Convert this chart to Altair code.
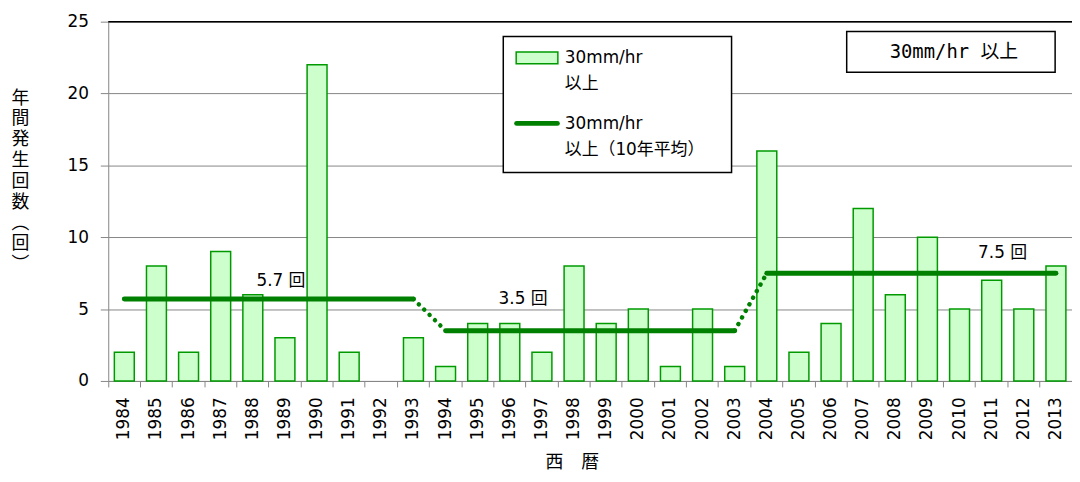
import altair as alt
import pandas as pd

years = ["1984", "1985", "1986", "1987", "1988", "1989", "1990", "1991", "1992", "1993",
         "1994", "1995", "1996", "1997", "1998", "1999", "2000", "2001", "2002", "2003",
         "2004", "2005", "2006", "2007", "2008", "2009", "2010", "2011", "2012", "2013"]
counts = [2, 8, 2, 9, 6, 3, 22, 2, 0, 3,
          1, 4, 4, 2, 8, 4, 5, 1, 5, 1,
          16, 2, 4, 12, 6, 10, 5, 7, 5, 8]

period_start = ["1984", "1994", "2004"]
period_end = ["1993", "2003", "2013"]
period_avg = [5.7, 3.5, 7.5]
avg_labels = ["5.7 回", "3.5 回", "7.5 回"]
label_years = ["1989", "1997", "2011"]

series_names = ["30mm/hr\n以上", "30mm/hr\n以上（10年平均）"]
box_title = ["30mm/hr 以上"]
y_title = ["年", "間", "発", "生", "回", "数", "︵", "回", "︶"]
x_title = "西　暦"
y_ticks = [0, 5, 10, 15, 20, 25]

FONT = "DejaVu Sans, 'Noto Sans CJK JP', sans-serif"
GRAY = "#868686"
GREEN = "#008000"
BAR_FILL = "#ccffcc"
BAR_STROKE = "#009a00"

# tables
bar_df = pd.DataFrame({"year": years, "count": counts})

line_rows = []
for p, (a, b, v) in enumerate(zip(period_start, period_end, period_avg)):
    for y in years[years.index(a): years.index(b) + 1]:
        line_rows.append({"year": y, "avg": v, "period": p})
line_df = pd.DataFrame(line_rows)

trans_rows = []
for p in range(len(period_avg) - 1):
    trans_rows.append({"year": period_end[p], "avg": period_avg[p], "seg": p})
    trans_rows.append({"year": period_start[p + 1], "avg": period_avg[p + 1], "seg": p})
trans_df = pd.DataFrame(trans_rows)

lab_df = pd.DataFrame({"year": label_years, "avg": period_avg, "label": avg_labels})
box_df = pd.DataFrame({"t": box_title})
top_df = pd.DataFrame({"v": [y_ticks[-1]]})
leg_df = pd.DataFrame({"a": [series_names[0]], "b": [series_names[1]]})

xscale = alt.Scale(domain=years, paddingInner=0, paddingOuter=0)
yscale = alt.Scale(domain=[0, 25], nice=False)

xaxis = alt.Axis(
    title=x_title, labelAngle=-90, labelFont=FONT, labelFontSize=17, labelColor="black",
    labelPadding=10, tickSize=6, tickColor=GRAY, domainColor=GRAY, bandPosition=0,
    grid=False, titleFont=FONT, titleFontSize=18, titleFontWeight="normal",
    titleColor="black", titleX=467, titleY=82, titleBaseline="middle", titleAlign="center",
)
yaxis = alt.Axis(
    title=y_title, values=y_ticks, labelFont=FONT, labelFontSize=17, labelColor="black",
    labelPadding=12, tickSize=8, tickColor=GRAY, domainColor=GRAY, grid=True,
    gridColor=GRAY, gridWidth=1, titleAngle=0, titleFont=FONT, titleFontSize=18,
    titleFontWeight="normal", titleColor="black", titleX=-89, titleY=68,
    titleBaseline="top", titleAlign="center", titleLineHeight=21,
)

bars = alt.Chart(bar_df).transform_filter("datum.count > 0").mark_bar(
    width=alt.RelativeBandSize(0.62), fill=BAR_FILL, stroke=BAR_STROKE, strokeWidth=1.5
).encode(
    x=alt.X("year:O", scale=xscale, axis=xaxis, sort=years),
    y=alt.Y("count:Q", scale=yscale, axis=yaxis),
)

top_rule = alt.Chart(top_df).mark_rule(color="black", strokeWidth=1.5).encode(
    y=alt.Y("v:Q", scale=yscale)
)

avg_line = alt.Chart(line_df).mark_line(strokeWidth=5, strokeCap="round", color=GREEN).encode(
    x=alt.X("year:O", scale=xscale, sort=years),
    y=alt.Y("avg:Q", scale=yscale),
    detail="period:N",
)

trans_line = alt.Chart(trans_df).mark_line(
    strokeWidth=4.5, strokeDash=[0.1, 7.5], strokeCap="round", color=GREEN
).encode(
    x=alt.X("year:O", scale=xscale, sort=years),
    y=alt.Y("avg:Q", scale=yscale),
    detail="seg:N",
)

offsets = [(-4, -18), (-19, -32), (11, -20)]
texts = []
for i, (dx, dy) in enumerate(offsets):
    texts.append(
        alt.Chart(lab_df.iloc[[i]]).mark_text(
            font=FONT, fontSize=17, color="black", dx=dx, dy=dy, baseline="middle"
        ).encode(
            x=alt.X("year:O", scale=xscale, sort=years),
            y=alt.Y("avg:Q", scale=yscale),
            text="label:N",
        )
    )

# title box (top right)
box = alt.Chart(box_df).mark_rect(fill="white", stroke="black", strokeWidth=1.5).encode(
    x=alt.value(744), x2=alt.value(954), y=alt.value(10), y2=alt.value(51)
)
box_text = alt.Chart(box_df).mark_text(
    font="'DejaVu Sans Mono', 'Noto Sans CJK JP', monospace", fontSize=19,
    color="black", baseline="middle", align="center"
).encode(x=alt.value(852), y=alt.value(31), text="t:N")

# legend (drawn box)
leg_box = alt.Chart(leg_df).mark_rect(fill="white", stroke="black", strokeWidth=1.5).encode(
    x=alt.value(398), x2=alt.value(628), y=alt.value(15), y2=alt.value(152)
)
leg_sw1 = alt.Chart(leg_df).mark_rect(fill=BAR_FILL, stroke=BAR_STROKE, strokeWidth=1.5).encode(
    x=alt.value(411), x2=alt.value(453), y=alt.value(30.5), y2=alt.value(42.5)
)
leg_sw2 = alt.Chart(leg_df).mark_rule(color=GREEN, strokeWidth=5, strokeCap="round").encode(
    x=alt.value(411.5), x2=alt.value(452.5), y=alt.value(102.5)
)
leg_t1 = alt.Chart(leg_df).mark_text(
    font=FONT, fontSize=17, color="black", align="left", baseline="middle",
    lineBreak="\n", lineHeight=26.5
).encode(x=alt.value(460), y=alt.value(36.5), text="a:N")
leg_t2 = alt.Chart(leg_df).mark_text(
    font=FONT, fontSize=17, color="black", align="left", baseline="middle",
    lineBreak="\n", lineHeight=26.5
).encode(x=alt.value(460), y=alt.value(103), text="b:N")

chart = alt.layer(
    bars, top_rule, avg_line, trans_line, *texts, box, box_text,
    leg_box, leg_sw1, leg_sw2, leg_t1, leg_t2
).properties(
    width=971, height=362,
    autosize=alt.AutoSizeParams(type="none"),
    padding={"left": 101, "top": 12, "right": 0, "bottom": 92},
).configure_view(strokeWidth=0)

chart.save("out.html", embed_options={"renderer": "svg", "actions": False})
